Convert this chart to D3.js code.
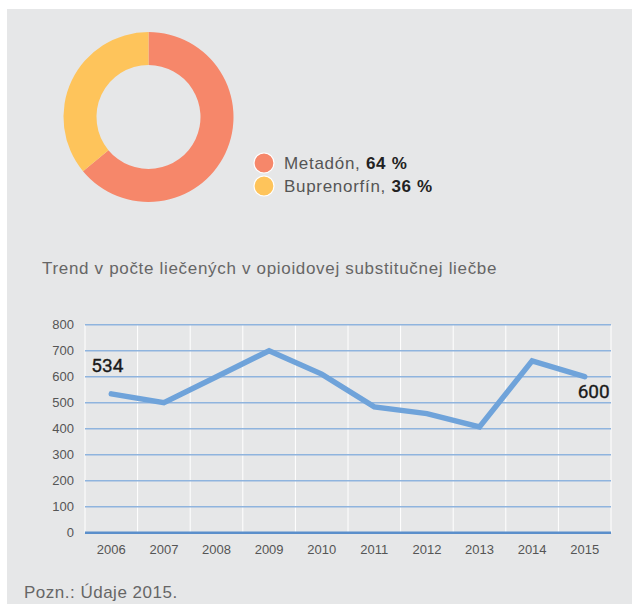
<!DOCTYPE html>
<html>
<head>
<meta charset="utf-8">
<script src="https://cdn.jsdelivr.net/npm/d3@7"></script>
<style>
  html, body { margin: 0; padding: 0; background: #ffffff; }
  svg { display: block; }
</style>
</head>
<body>
<svg id="chart" width="632" height="604"></svg>
<script>
// Share of substitution treatment by substance
const drugNames = ["Metadón", "Buprenorfín"];
const drugShares = [64, 36];
const drugColors = ["#F6876A", "#FEC45B"];

// Number of people in opioid substitution treatment per year
const years = ["2006", "2007", "2008", "2009", "2010", "2011", "2012", "2013", "2014", "2015"];
const patients = [534, 500, 600, 700, 610, 484, 458, 407, 661, 600];
const yTicks = [0, 100, 200, 300, 400, 500, 600, 700, 800];

const svg = d3.select("#chart");
const bodyFont = "'Liberation Sans', Arial, sans-serif";
const narrowFont = "'Liberation Sans Narrow', 'Liberation Sans', Arial, sans-serif";

// panel background
svg.append("rect").attr("x", 7).attr("y", 9).attr("width", 625).attr("height", 595)
  .attr("fill", "#E6E7E8");

// ---- donut ----
const pie = d3.pie().sort(null).value(d => d)(drugShares);
const arc = d3.arc().innerRadius(52).outerRadius(85);
const donut = svg.append("g").attr("transform", "translate(148.5,117)");
donut.selectAll("path").data(pie).join("path")
  .attr("d", arc)
  .attr("fill", (d, i) => drugColors[i]);

// legend
const legend = svg.append("g").attr("transform", "translate(264,163)");
const items = legend.selectAll("g").data(drugNames).join("g")
  .attr("transform", (d, i) => `translate(0,${i * 23})`);
items.append("circle").attr("r", 10).attr("fill", (d, i) => drugColors[i])
  .attr("stroke", "#ffffff").attr("stroke-width", 1.2);
const lt = items.append("text").attr("x", 20).attr("y", 6)
  .style("font-family", bodyFont).style("font-size", "17px")
  .style("letter-spacing", "0.7px");
lt.append("tspan").attr("fill", "#555").text(d => d + ", ");
lt.append("tspan").attr("fill", "#222").attr("font-weight", "bold")
  .text((d, i) => drugShares[i] + " %");

// ---- line chart ----
svg.append("text").attr("x", 42).attr("y", 274)
  .style("font-family", bodyFont).style("font-size", "17px").attr("fill", "#666")
  .style("letter-spacing", "0.68px")
  .text("Trend v počte liečených v opioidovej substitučnej liečbe");

const plotLeft = 85, plotRight = 611, plotTop = 324.7, plotBottom = 532.7;
const xBand = d3.scaleBand().domain(years).range([plotLeft, plotRight]);
const x = d => xBand(d) + xBand.bandwidth() / 2;
const y = d3.scaleLinear().domain([0, 800]).range([plotBottom, plotTop]);

const plot = svg.append("g");

// vertical white separators
const seps = years.map(d => xBand(d)).concat([plotRight]);
plot.selectAll("line.vsep").data(seps).join("line").attr("class", "vsep")
  .attr("x1", d => d).attr("x2", d => d).attr("y1", plotTop).attr("y2", plotBottom)
  .attr("stroke", "#ffffff").attr("stroke-width", 1);

// horizontal gridlines
plot.selectAll("line.hgrid").data(yTicks).join("line").attr("class", "hgrid")
  .attr("x1", plotLeft).attr("x2", plotRight)
  .attr("y1", d => y(d)).attr("y2", d => y(d))
  .attr("stroke", d => d === 0 ? "#5B8FCB" : "#8FB4DE")
  .attr("stroke-width", d => d === 0 ? 2.5 : 1.5);

// y axis labels
const yAxis = svg.append("g").attr("transform", `translate(${plotLeft - 11},0)`)
  .call(d3.axisLeft(y).tickValues(yTicks).tickSize(0).tickPadding(0));
yAxis.select(".domain").remove();
yAxis.selectAll("text").style("font-family", narrowFont).style("font-size", "13px")
  .attr("fill", "#555");

// x axis labels
const xAxis = svg.append("g").attr("transform", `translate(0,${plotBottom + 10})`)
  .call(d3.axisBottom(xBand).tickSize(0).tickPadding(0));
xAxis.select(".domain").remove();
xAxis.selectAll("text").style("font-family", narrowFont).style("font-size", "13px")
  .attr("fill", "#555").attr("dy", "0.85em");

// trend line
const line = d3.line().x((d, i) => x(years[i])).y(d => y(d));
plot.append("path").datum(patients)
  .attr("d", line).attr("fill", "none")
  .attr("stroke", "#6FA3DA").attr("stroke-width", 5.5)
  .attr("stroke-linejoin", "miter").attr("stroke-linecap", "round");

// end value labels
const first = 0, last = patients.length - 1;
const valueFont = "Roboto, 'Liberation Sans', sans-serif";
svg.append("text").attr("x", x(years[first]) - 20).attr("y", y(patients[first]) - 22)
  .style("font-family", valueFont).style("font-size", "19px")
  .attr("fill", "#1a1a1a").attr("stroke", "#1a1a1a").attr("stroke-width", 0.35)
  .text(patients[first]);
svg.append("text").attr("x", x(years[last]) + 25).attr("y", y(patients[last]) + 21)
  .attr("text-anchor", "end")
  .style("font-family", valueFont).style("font-size", "19px")
  .attr("fill", "#1a1a1a").attr("stroke", "#1a1a1a").attr("stroke-width", 0.35)
  .text(patients[last]);

// footnote
svg.append("text").attr("x", 24).attr("y", 598)
  .style("font-family", bodyFont).style("font-size", "17px").attr("fill", "#666")
  .style("letter-spacing", "0.5px")
  .text("Pozn.: Údaje 2015.");
</script>
</body>
</html>
